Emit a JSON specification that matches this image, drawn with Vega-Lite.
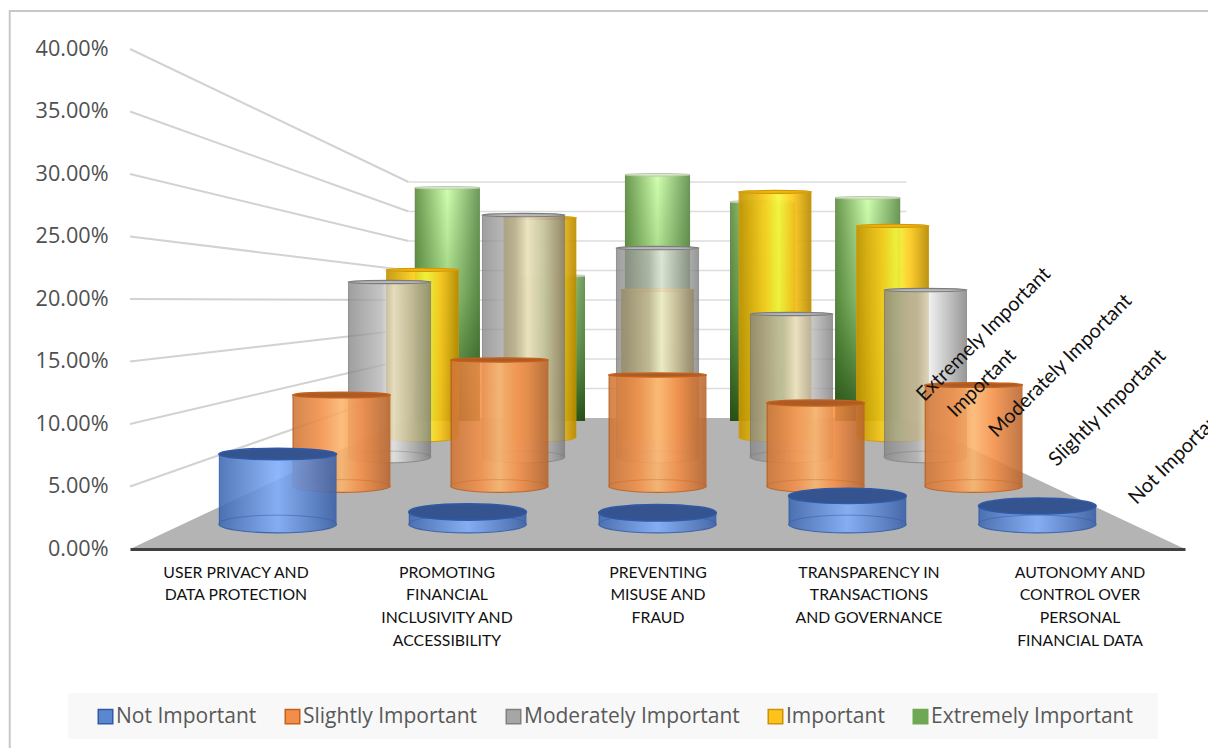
{
  "$schema": "https://vega.github.io/schema/vega-lite/v6.json",
  "width": 1055,
  "height": 500,
  "autosize": {"type": "none"},
  "padding": {"left": 130, "top": 49, "right": 23, "bottom": 199},
  "background": "#ffffff",
  "config": {"view": {"stroke": null}},
  "datasets": {
    "responses": [
      {"category": "User privacy and data protection", "series": "Not Important", "value": 0.0622},
      {"category": "User privacy and data protection", "series": "Slightly Important", "value": 0.0972},
      {"category": "User privacy and data protection", "series": "Moderately Important", "value": 0.2204},
      {"category": "User privacy and data protection", "series": "Important", "value": 0.24},
      {"category": "User privacy and data protection", "series": "Extremely Important", "value": 0.3746},
      {"category": "Promoting financial inclusivity and accessibility", "series": "Not Important", "value": 0.0107},
      {"category": "Promoting financial inclusivity and accessibility", "series": "Slightly Important", "value": 0.1346},
      {"category": "Promoting financial inclusivity and accessibility", "series": "Moderately Important", "value": 0.3048},
      {"category": "Promoting financial inclusivity and accessibility", "series": "Important", "value": 0.3147},
      {"category": "Promoting financial inclusivity and accessibility", "series": "Extremely Important", "value": 0.2331},
      {"category": "Preventing misuse and fraud", "series": "Not Important", "value": 0.01},
      {"category": "Preventing misuse and fraud", "series": "Slightly Important", "value": 0.1186},
      {"category": "Preventing misuse and fraud", "series": "Moderately Important", "value": 0.2632},
      {"category": "Preventing misuse and fraud", "series": "Important", "value": 0.2112},
      {"category": "Preventing misuse and fraud", "series": "Extremely Important", "value": 0.3955},
      {"category": "Transparency in transactions and governance", "series": "Not Important", "value": 0.0249},
      {"category": "Transparency in transactions and governance", "series": "Slightly Important", "value": 0.0887},
      {"category": "Transparency in transactions and governance", "series": "Moderately Important", "value": 0.1801},
      {"category": "Transparency in transactions and governance", "series": "Important", "value": 0.352},
      {"category": "Transparency in transactions and governance", "series": "Extremely Important", "value": 0.352},
      {"category": "Autonomy and control over personal financial data", "series": "Not Important", "value": 0.016},
      {"category": "Autonomy and control over personal financial data", "series": "Slightly Important", "value": 0.1079},
      {"category": "Autonomy and control over personal financial data", "series": "Moderately Important", "value": 0.2103},
      {"category": "Autonomy and control over personal financial data", "series": "Important", "value": 0.3032},
      {"category": "Autonomy and control over personal financial data", "series": "Extremely Important", "value": 0.3585}
    ],
    "levels": [
      {"level": 0.05}, {"level": 0.1}, {"level": 0.15}, {"level": 0.2},
      {"level": 0.25}, {"level": 0.3}, {"level": 0.35}, {"level": 0.4}
    ],
    "floorOutline": [
      {"side": -1, "depth": 1},
      {"side": -1, "depth": 0.472},
      {"side": 1, "depth": 0.472},
      {"side": 1, "depth": 1}
    ],
    "seriesNames": [
      {"series": "Not Important"},
      {"series": "Slightly Important"},
      {"series": "Moderately Important"},
      {"series": "Important"},
      {"series": "Extremely Important"}
    ]
  },
  "encoding": {
    "x": {
      "field": "px",
      "type": "quantitative",
      "title": null,
      "scale": {"domain": [-2.5, 2.5], "nice": false, "zero": false},
      "axis": {
        "values": [-2, -1, 0, 1, 2],
        "labelExpr": "[['USER PRIVACY AND','DATA PROTECTION'],['PROMOTING','FINANCIAL','INCLUSIVITY AND','ACCESSIBILITY'],['PREVENTING','MISUSE AND','FRAUD'],['TRANSPARENCY IN','TRANSACTIONS','AND GOVERNANCE'],['AUTONOMY AND','CONTROL OVER','PERSONAL','FINANCIAL DATA']][datum.value + 2]",
        "grid": false,
        "ticks": false,
        "domainColor": "#404040",
        "domainWidth": 3,
        "zindex": 1,
        "labelFont": "Lato",
        "labelFontSize": 15.8,
        "labelColor": "#111111",
        "labelPadding": 16,
        "labelLineHeight": 22.7,
        "labelOverlap": false,
        "labelBaseline": "top"
      }
    },
    "y": {
      "field": "py",
      "type": "quantitative",
      "title": null,
      "scale": {"domain": [0, 0.4], "nice": false},
      "axis": {
        "values": [0, 0.05, 0.1, 0.15, 0.2, 0.25, 0.3, 0.35, 0.4],
        "format": ".2%",
        "grid": false,
        "ticks": false,
        "domain": false,
        "labelFont": "Open Sans",
        "labelFontSize": 21.6,
        "labelColor": "#505050",
        "labelPadding": 22
      }
    }
  },
  "layer": [
    {
      "description": "Outer chart border, open past the window's right and bottom edges",
      "data": {"values": [{"part": "frame"}]},
      "transform": [
        {"calculate": "-3.07", "as": "px"},
        {"calculate": "3.5", "as": "px2"},
        {"calculate": "0.4304", "as": "py"},
        {"calculate": "-0.3", "as": "py2"}
      ],
      "mark": {"type": "rect", "filled": false, "stroke": "#c8c8c8", "strokeWidth": 2},
      "encoding": {"x2": {"field": "px2"}, "y2": {"field": "py2"}}
    },
    {
      "description": "Pale band behind the legend",
      "data": {"values": [{"part": "legend band"}]},
      "transform": [
        {"calculate": "-2.794", "as": "px"},
        {"calculate": "2.372", "as": "px2"},
        {"calculate": "-0.1152", "as": "py"},
        {"calculate": "-0.152", "as": "py2"}
      ],
      "mark": {"type": "rect", "fill": "#f8f8f8"},
      "encoding": {"x2": {"field": "px2"}, "y2": {"field": "py2"}}
    },
    {
      "description": "Floor of the 3D scene",
      "data": {"name": "floorOutline"},
      "transform": [
        {"calculate": "datum.side * 2.5 * datum.depth", "as": "px"},
        {"calculate": "(1 - datum.depth) * 0.1048 / 0.528", "as": "py"},
        {"calculate": "0", "as": "py2"}
      ],
      "mark": {"type": "area", "fill": "#b4b4b4"},
      "encoding": {"y2": {"field": "py2"}}
    },
    {
      "description": "Gridlines running along the side wall, then across the back wall",
      "data": {"name": "levels"},
      "transform": [
        {"calculate": "0.1048 + datum.level * 0.472", "as": "backY"},
        {"calculate": "-2.5", "as": "px"},
        {"calculate": "-1.18", "as": "px2"},
        {"calculate": "datum.level", "as": "py"}
      ],
      "mark": {"type": "rule", "stroke": "#d2d2d2", "strokeWidth": 2},
      "encoding": {
        "x2": {"field": "px2"},
        "y2": {"field": "backY"}
      }
    },
    {
      "data": {"name": "levels"},
      "transform": [
        {"calculate": "0.1048 + datum.level * 0.472", "as": "py"},
        {"calculate": "-1.18", "as": "px"},
        {"calculate": "1.18", "as": "px2"}
      ],
      "mark": {"type": "rule", "stroke": "#dcdcdc", "strokeWidth": 1.5},
      "encoding": {"x2": {"field": "px2"}}
    },
    {
      "description": "Cylinders, drawn from the rear series to the front one",
      "data": {"name": "responses"},
      "transform": [
        {"calculate": "{'Not Important': 0.9, 'Slightly Important': 0.749, 'Moderately Important': 0.635, 'Important': 0.557, 'Extremely Important': 0.498}[datum.series]", "as": "depth"},
        {"calculate": "{'Not Important': 0.02, 'Slightly Important': 0.0504, 'Moderately Important': 0.0736, 'Important': 0.0896, 'Extremely Important': 0.1024}[datum.series]", "as": "floorY"},
        {"calculate": "(indexof(['User privacy and data protection','Promoting financial inclusivity and accessibility','Preventing misuse and fraud','Transparency in transactions and governance','Autonomy and control over personal financial data'], datum.category) - 2) * datum.depth", "as": "cx"},
        {"calculate": "datum.cx - 0.31 * datum.depth", "as": "px"},
        {"calculate": "datum.cx + 0.31 * datum.depth", "as": "px2"},
        {"calculate": "datum.floorY + datum.value * datum.depth", "as": "py"},
        {"calculate": "pow(130.8 * datum.depth, 2)", "as": "capSize"},
        {"calculate": "max(0.04, 0.15 - 0.92 * (datum.py - 0.02))", "as": "capRatio"},
        {"calculate": "'M-1,0 A1,' + datum.capRatio + ' 0 1,1 1,0 A1,' + datum.capRatio + ' 0 1,1 -1,0 Z'", "as": "capShape"}
      ],
      "layer": [
        {
          "transform": [{"filter": "datum.series === 'Extremely Important'"}],
          "layer": [
            {
              "mark": {"type": "rect", "fill": {"x1": 0, "y1": 0, "x2": 1, "y2": 0, "gradient": "linear", "stops": [
                {"offset": 0, "color": "#6e8f5a"}, {"offset": 0.013, "color": "#6e8f5a"}, {"offset": 0.014, "color": "#6c9a50"},
                {"offset": 0.5, "color": "#d0ffae"}, {"offset": 0.986, "color": "#6f9a5c"}, {"offset": 1, "color": "#6e8f5a"}]}},
              "encoding": {"x2": {"field": "px2"}, "y2": {"field": "floorY"}}
            },
            {
              "mark": {"type": "rect", "fill": {"x1": 0, "y1": 0, "x2": 0, "y2": 1, "gradient": "linear", "stops": [
                {"offset": 0, "color": "rgba(40,90,20,0)"}, {"offset": 0.45, "color": "rgba(40,100,20,0.3)"}, {"offset": 1, "color": "rgba(25,65,10,0.85)"}]}},
              "encoding": {"x2": {"field": "px2"}, "y2": {"field": "floorY"}}
            },
            {
              "mark": {"type": "point", "filled": true, "fill": "#d6ecc6", "stroke": "#b9c9ac", "strokeWidth": 1, "opacity": 1},
              "encoding": {
                "x": {"field": "cx", "type": "quantitative"},
                "size": {"field": "capSize", "type": "quantitative", "scale": null, "legend": null},
                "shape": {"field": "capShape", "type": "nominal", "scale": null, "legend": null}
              }
            }
          ]
        },
        {
          "transform": [{"filter": "datum.series === 'Important'"}],
          "layer": [
            {
              "mark": {"type": "rect", "opacity": 0.92, "fill": {"x1": 0, "y1": 0, "x2": 1, "y2": 0, "gradient": "linear", "stops": [
                {"offset": 0, "color": "#cf9a08"}, {"offset": 0.013, "color": "#cf9a08"}, {"offset": 0.014, "color": "#c49500"},
                {"offset": 0.35, "color": "#f6ca16"}, {"offset": 0.55, "color": "#f6f83a"}, {"offset": 0.75, "color": "#fbc71a"},
                {"offset": 0.986, "color": "#b98c00"}, {"offset": 1, "color": "#cf9a08"}]}},
              "encoding": {"x2": {"field": "px2"}, "y2": {"field": "floorY"}}
            },
            {
              "mark": {"type": "point", "filled": true, "opacity": 0.92, "stroke": "#d29a06", "strokeWidth": 1, "shape": "M-1,0 A1,0.13 0 0,0 1,0", "fill": {"x1": 0, "y1": 0, "x2": 1, "y2": 0, "gradient": "linear", "stops": [
                {"offset": 0, "color": "#c49500"}, {"offset": 0.35, "color": "#f6ca16"}, {"offset": 0.55, "color": "#f6f83a"}, {"offset": 0.75, "color": "#fbc71a"}, {"offset": 1, "color": "#b98c00"}]}},
              "encoding": {
                "x": {"field": "cx", "type": "quantitative"},
                "y": {"field": "floorY", "type": "quantitative"},
                "size": {"field": "capSize", "type": "quantitative", "scale": null, "legend": null}
              }
            },
            {
              "mark": {"type": "point", "filled": true, "fill": "#f2b90f", "stroke": "#d29a06", "strokeWidth": 1.2, "opacity": 1},
              "encoding": {
                "x": {"field": "cx", "type": "quantitative"},
                "size": {"field": "capSize", "type": "quantitative", "scale": null, "legend": null},
                "shape": {"field": "capShape", "type": "nominal", "scale": null, "legend": null}
              }
            }
          ]
        },
        {
          "transform": [{"filter": "datum.series === 'Moderately Important'"}],
          "layer": [
            {
              "mark": {"type": "rect", "opacity": 0.78, "fill": {"x1": 0, "y1": 0, "x2": 1, "y2": 0, "gradient": "linear", "stops": [
                {"offset": 0, "color": "#747474"}, {"offset": 0.013, "color": "#747474"}, {"offset": 0.014, "color": "#858585"},
                {"offset": 0.4, "color": "#b4b4b4"}, {"offset": 0.55, "color": "#eaeaea"}, {"offset": 0.986, "color": "#7c7c7c"}, {"offset": 1, "color": "#747474"}]}},
              "encoding": {"x2": {"field": "px2"}, "y2": {"field": "floorY"}}
            },
            {
              "mark": {"type": "point", "filled": true, "opacity": 0.78, "stroke": "#808080", "strokeWidth": 1, "shape": "M-1,0 A1,0.14 0 0,0 1,0", "fill": {"x1": 0, "y1": 0, "x2": 1, "y2": 0, "gradient": "linear", "stops": [
                {"offset": 0, "color": "#858585"}, {"offset": 0.4, "color": "#b4b4b4"}, {"offset": 0.55, "color": "#eaeaea"}, {"offset": 1, "color": "#7c7c7c"}]}},
              "encoding": {
                "x": {"field": "cx", "type": "quantitative"},
                "y": {"field": "floorY", "type": "quantitative"},
                "size": {"field": "capSize", "type": "quantitative", "scale": null, "legend": null}
              }
            },
            {
              "mark": {"type": "point", "filled": false, "stroke": "#6f6f6f", "strokeWidth": 1, "opacity": 0.35, "shape": "M-1,0 A1,0.14 0 0,1 1,0"},
              "encoding": {
                "x": {"field": "cx", "type": "quantitative"},
                "y": {"field": "floorY", "type": "quantitative"},
                "size": {"field": "capSize", "type": "quantitative", "scale": null, "legend": null}
              }
            },
            {
              "mark": {"type": "point", "filled": true, "fill": "#b8b8b8", "stroke": "#7c7c7c", "strokeWidth": 1.2, "opacity": 1},
              "encoding": {
                "x": {"field": "cx", "type": "quantitative"},
                "size": {"field": "capSize", "type": "quantitative", "scale": null, "legend": null},
                "shape": {"field": "capShape", "type": "nominal", "scale": null, "legend": null}
              }
            }
          ]
        },
        {
          "transform": [{"filter": "datum.series === 'Slightly Important'"}],
          "layer": [
            {
              "mark": {"type": "rect", "opacity": 0.88, "fill": {"x1": 0, "y1": 0, "x2": 1, "y2": 0, "gradient": "linear", "stops": [
                {"offset": 0, "color": "#bd5f1c"}, {"offset": 0.014, "color": "#bd5f1c"}, {"offset": 0.015, "color": "#cf7636"},
                {"offset": 0.3, "color": "#f28f48"}, {"offset": 0.5, "color": "#fbb56c"}, {"offset": 0.7, "color": "#f58e46"},
                {"offset": 0.985, "color": "#b9662e"}, {"offset": 1, "color": "#bd5f1c"}]}},
              "encoding": {"x2": {"field": "px2"}, "y2": {"field": "floorY"}}
            },
            {
              "mark": {"type": "point", "filled": true, "opacity": 0.88, "stroke": "#bd5f1c", "strokeWidth": 1.2, "shape": "M-1,0 A1,0.13 0 0,0 1,0", "fill": {"x1": 0, "y1": 0, "x2": 1, "y2": 0, "gradient": "linear", "stops": [
                {"offset": 0, "color": "#cf7636"}, {"offset": 0.3, "color": "#f28f48"}, {"offset": 0.5, "color": "#fbb56c"}, {"offset": 0.7, "color": "#f58e46"}, {"offset": 1, "color": "#b9662e"}]}},
              "encoding": {
                "x": {"field": "cx", "type": "quantitative"},
                "y": {"field": "floorY", "type": "quantitative"},
                "size": {"field": "capSize", "type": "quantitative", "scale": null, "legend": null}
              }
            },
            {
              "mark": {"type": "point", "filled": false, "stroke": "#bd5f1c", "strokeWidth": 1, "opacity": 0.35, "shape": "M-1,0 A1,0.13 0 0,1 1,0"},
              "encoding": {
                "x": {"field": "cx", "type": "quantitative"},
                "y": {"field": "floorY", "type": "quantitative"},
                "size": {"field": "capSize", "type": "quantitative", "scale": null, "legend": null}
              }
            },
            {
              "mark": {"type": "point", "filled": true, "fill": "#a85c2a", "stroke": "#c5601a", "strokeWidth": 1.5, "opacity": 1},
              "encoding": {
                "x": {"field": "cx", "type": "quantitative"},
                "size": {"field": "capSize", "type": "quantitative", "scale": null, "legend": null},
                "shape": {"field": "capShape", "type": "nominal", "scale": null, "legend": null}
              }
            }
          ]
        },
        {
          "transform": [{"filter": "datum.series === 'Not Important'"}],
          "layer": [
            {
              "mark": {"type": "rect", "opacity": 0.88, "fill": {"x1": 0, "y1": 0, "x2": 1, "y2": 0, "gradient": "linear", "stops": [
                {"offset": 0, "color": "#2f5aa8"}, {"offset": 0.012, "color": "#2f5aa8"}, {"offset": 0.013, "color": "#3f69b2"},
                {"offset": 0.5, "color": "#7fadfb"}, {"offset": 0.987, "color": "#3a60a8"}, {"offset": 1, "color": "#2f5aa8"}]}},
              "encoding": {"x2": {"field": "px2"}, "y2": {"field": "floorY"}}
            },
            {
              "mark": {"type": "point", "filled": true, "opacity": 0.88, "stroke": "#2f5aa8", "strokeWidth": 1.2, "shape": "M-1,0 A1,0.15 0 0,0 1,0", "fill": {"x1": 0, "y1": 0, "x2": 1, "y2": 0, "gradient": "linear", "stops": [
                {"offset": 0, "color": "#3f69b2"}, {"offset": 0.5, "color": "#7fadfb"}, {"offset": 1, "color": "#3a60a8"}]}},
              "encoding": {
                "x": {"field": "cx", "type": "quantitative"},
                "y": {"field": "floorY", "type": "quantitative"},
                "size": {"field": "capSize", "type": "quantitative", "scale": null, "legend": null}
              }
            },
            {
              "mark": {"type": "point", "filled": false, "stroke": "#2f5aa8", "strokeWidth": 1, "opacity": 0.5, "shape": "M-1,0 A1,0.15 0 0,1 1,0"},
              "encoding": {
                "x": {"field": "cx", "type": "quantitative"},
                "y": {"field": "floorY", "type": "quantitative"},
                "size": {"field": "capSize", "type": "quantitative", "scale": null, "legend": null}
              }
            },
            {
              "mark": {"type": "point", "filled": true, "fill": "#35548f", "stroke": "#2f5aa8", "strokeWidth": 1.5, "opacity": 1},
              "encoding": {
                "x": {"field": "cx", "type": "quantitative"},
                "size": {"field": "capSize", "type": "quantitative", "scale": null, "legend": null},
                "shape": {"field": "capShape", "type": "nominal", "scale": null, "legend": null}
              }
            }
          ]
        }
      ]
    },
    {
      "description": "Series names along the depth axis; they run off the right edge of the window",
      "data": {"name": "seriesNames"},
      "transform": [
        {"calculate": "{'Not Important': 0.9, 'Slightly Important': 0.749, 'Moderately Important': 0.635, 'Important': 0.557, 'Extremely Important': 0.498}[datum.series]", "as": "depth"},
        {"calculate": "{'Not Important': 0.02, 'Slightly Important': 0.0504, 'Moderately Important': 0.0736, 'Important': 0.0896, 'Extremely Important': 0.1024}[datum.series]", "as": "floorY"},
        {"calculate": "2.5 * datum.depth", "as": "px"},
        {"calculate": "datum.floorY + 0.0184", "as": "py"}
      ],
      "layer": [
        {
          "mark": {"type": "text", "angle": 315, "align": "left", "baseline": "middle", "font": "Lato", "fontSize": 20, "color": "#111111"},
          "encoding": {"text": {"field": "series"}}
        },
        {
          "mark": {"type": "point", "filled": true, "opacity": 0},
          "encoding": {
            "color": {
              "field": "series",
              "type": "nominal",
              "scale": {
                "domain": ["Not Important", "Slightly Important", "Moderately Important", "Important", "Extremely Important"],
                "range": ["#5b87d0", "#f28e4a", "#a6a6a6", "#ffc21a", "#6fa854"]
              },
              "legend": {
                "title": null,
                "orient": "none",
                "legendX": -35,
                "legendY": 657,
                "direction": "horizontal",
                "columns": 5,
                "padding": 0,
                "symbolType": "square",
                "symbolSize": 210,
                "symbolOpacity": 1,
                "symbolStrokeWidth": 1.5,
                "columnPadding": 25,
                "labelOffset": 0,
                "labelFont": "Open Sans",
                "labelFontSize": 21,
                "labelColor": "#595959",
                "labelLimit": 400,
                "encode": {
                  "symbols": {"update": {"stroke": {"signal": "{'Not Important': '#2f5aa8', 'Slightly Important': '#c5601a', 'Moderately Important': '#808080', 'Important': '#c9930a', 'Extremely Important': '#6fa854'}[datum.value]"}}}
                }
              }
            }
          }
        }
      ]
    }
  ]
}
